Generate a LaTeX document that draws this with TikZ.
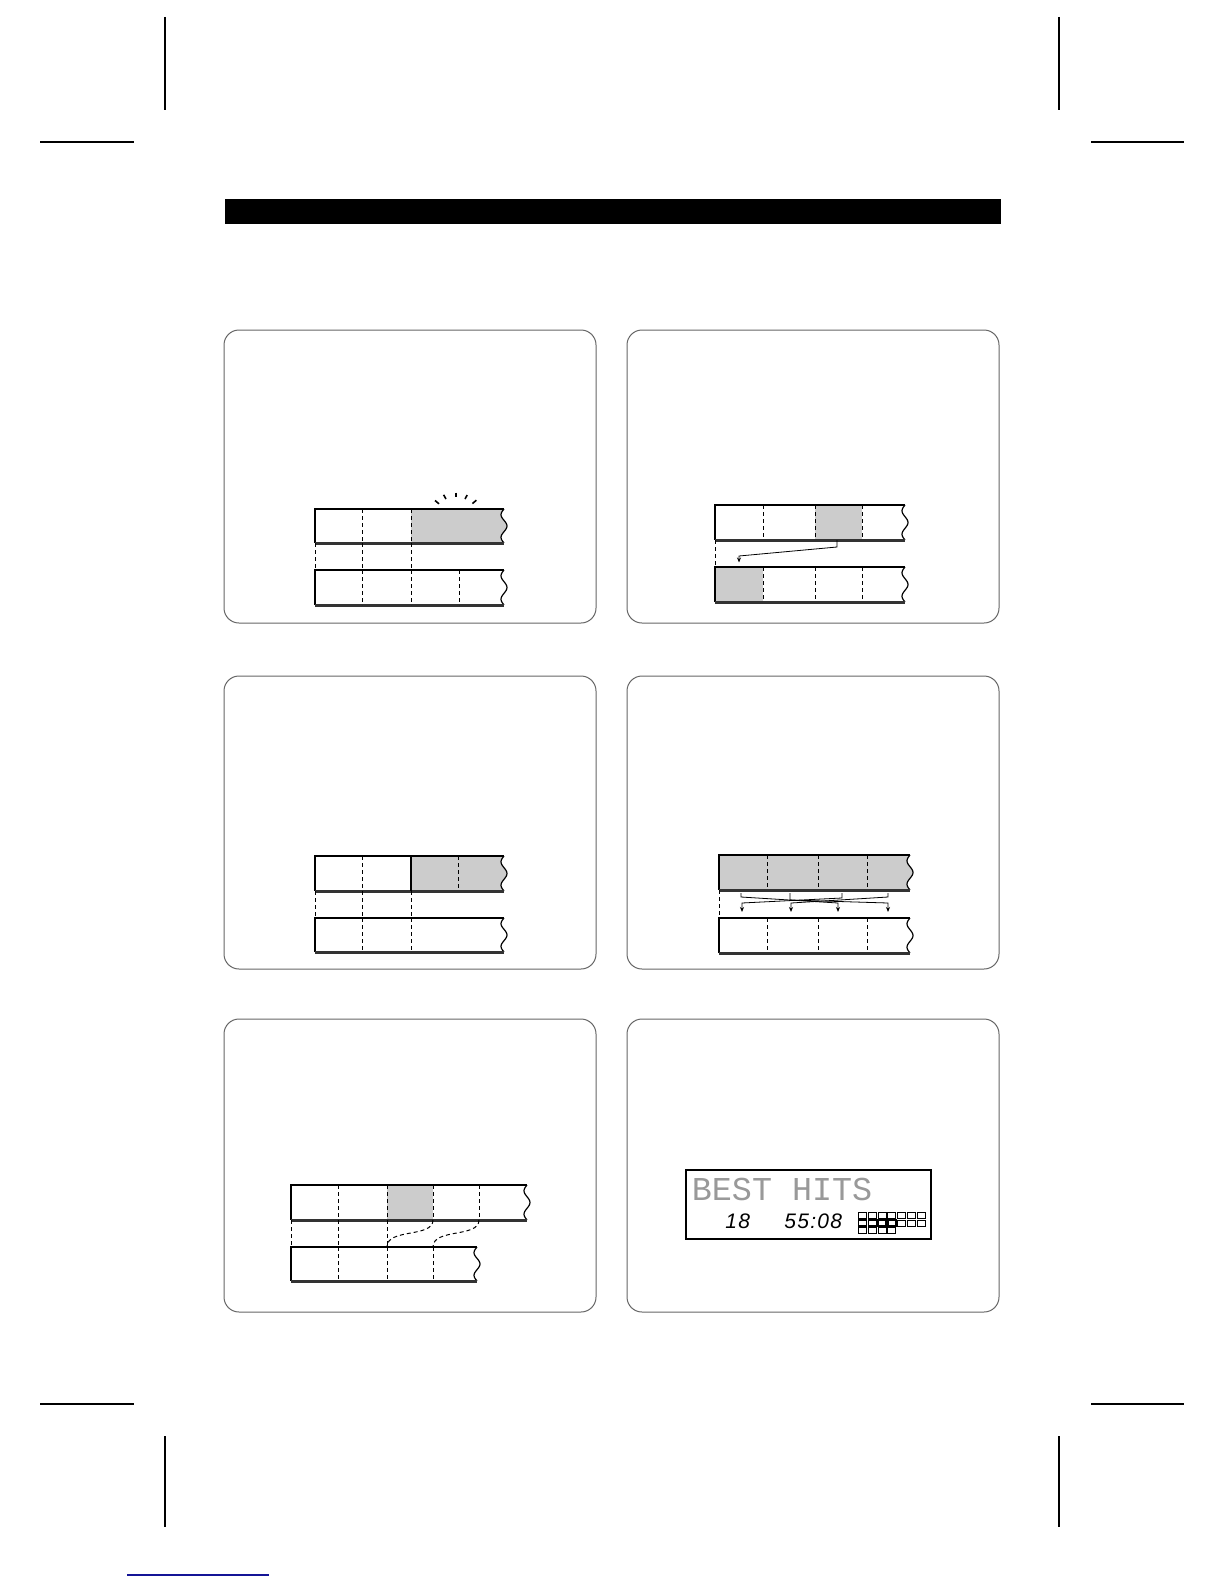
\documentclass[tikz,border=0pt]{standalone}
\usepackage{fontspec}
\newfontfamily\lcdfont{Liberation Mono}
\newfontfamily\segfont[LetterSpace=6]{Liberation Sans}
\usetikzlibrary{arrows.meta}

\definecolor{linkblue}{RGB}{20,20,150}

\tikzset{
  panel/.style={draw=black!60, line width=0.5pt, rounded corners=7.5pt},
  edge/.style={line width=0.6pt},
  base/.style={line width=1.5pt, black!80},
  sep/.style={line width=0.5pt, dash pattern=on 2pt off 1.5pt},
  shade/.style={fill=black!20},
  link/.style={line width=0.4pt, ->},
  crop/.style={line width=0.7pt},
  flash/.style={line width=0.8pt},
  seg/.style={line width=0.45pt},
}

\begin{document}
\begin{tikzpicture}[>={Stealth[length=2.5pt,width=2pt]}]
  \begin{scope}[x=0.5pt,y=-0.5pt]
    \useasboundingbox (0,0) rectangle (1224,1584);
    % tape: left, right, top, bottom
    \newcommand{\tape}[4]{%
      \draw[edge] (#2,#3) -- (#1,#3) -- (#1,#4);
      \draw[edge] plot[domain=0:1, samples=25, smooth] ({#2-3*sin(540*\x)},{#3+\x*(#4-#3)});
      \draw[base] (#1,#4) -- (#2,#4);
    }

    % crop marks
    \foreach \cx in {165,1059} {
      \draw[crop] (\cx,17) -- (\cx,110);
      \draw[crop] (\cx,1436) -- (\cx,1527);
    }
    \foreach \cy in {142,1404} {
      \draw[crop] (40,\cy) -- (134,\cy);
      \draw[crop] (1091,\cy) -- (1184,\cy);
    }
    \draw[linkblue, line width=0.7pt] (127,1575) -- (269,1575);

    % header bar
    \fill (225,199) rectangle (1001,224);

    % panels
    \foreach \px in {224,627}
      \foreach \py in {330,676,1019}
        \draw[panel] (\px,\py) rectangle ++(372,293);

    % panel 1
    \fill[shade] (411,509) -- (504,509) -- plot[domain=0:1, samples=25, smooth]
      ({504-3*sin(540*\x)},{509+\x*34}) -- (411,543) -- cycle;
    \tape{315}{504}{509}{543}
    \foreach \xx in {362,411} \draw[sep] (\xx,509) -- (\xx,543);
    \foreach \xx in {315,362,411} \draw[sep] (\xx,543) -- (\xx,570);
    \tape{315}{504}{570}{605}
    \foreach \xx in {362,411,459} \draw[sep] (\xx,570) -- (\xx,605);
    \draw[flash] (435,500.5) -- (439,503.8);
    \draw[flash] (443.6,494.8) -- (446,499);
    \draw[flash] (456,492.5) -- (456,497.2);
    \draw[flash] (467.2,495) -- (465,499);
    \draw[flash] (476.4,500.2) -- (472.4,503.6);

    % panel 2
    \fill[shade] (815,505) rectangle (862,540);
    \tape{715}{905}{505}{540}
    \foreach \xx in {763,815,862} \draw[sep] (\xx,505) -- (\xx,540);
    \draw[sep] (715,540) -- (715,567);
    \draw[link] (837,540) -- (837,547) -- (739,556) -- (739,562.5);
    \fill[shade] (715,567) rectangle (763,602);
    \tape{715}{905}{567}{602}
    \foreach \xx in {763,815,862} \draw[sep] (\xx,567) -- (\xx,602);

    % panel 3
    \fill[shade] (411,856) -- (504,856) -- plot[domain=0:1, samples=25, smooth]
      ({504-3*sin(540*\x)},{856+\x*35}) -- (411,891) -- cycle;
    \tape{315}{504}{856}{891}
    \draw[sep] (362,856) -- (362,891);
    \draw[edge] (411,856) -- (411,891);
    \draw[sep] (458,856) -- (458,891);
    \foreach \xx in {315,362,411} \draw[sep] (\xx,891) -- (\xx,918);
    \tape{315}{504}{918}{952}
    \foreach \xx in {362,411} \draw[sep] (\xx,918) -- (\xx,952);

    % panel 4
    \fill[shade] (719,855) -- (910,855) -- plot[domain=0:1, samples=25, smooth]
      ({910-3*sin(540*\x)},{855+\x*35}) -- (719,890) -- cycle;
    \tape{719}{910}{855}{890}
    \foreach \xx in {767,818,867} \draw[sep] (\xx,855) -- (\xx,890);
    \draw[sep] (719,890) -- (719,918);
    \draw[link] (741,893) -- (741,897) -- (838,903) -- (838,912);
    \draw[link] (842,893) -- (842,898) -- (742,903) -- (742,912);
    \draw[link] (790,893) -- (790,900) -- (888,903) -- (888,912);
    \draw[link] (888,893) -- (888,897) -- (791,903) -- (791,912);
    \tape{719}{910}{918}{953}
    \foreach \xx in {767,818,867} \draw[sep] (\xx,918) -- (\xx,953);

    % panel 5
    \fill[shade] (387,1185) rectangle (433,1220);
    \tape{291}{527}{1185}{1220}
    \foreach \xx in {338,387,433,479} \draw[sep] (\xx,1185) -- (\xx,1220);
    \foreach \xx in {291,338,387} \draw[sep] (\xx,1220) -- (\xx,1247);
    \draw[sep] (433,1220) .. controls (433,1238) and (387,1228) .. (387,1247);
    \draw[sep] (479,1220) .. controls (479,1238) and (433,1228) .. (433,1247);
    \tape{291}{477}{1247}{1281}
    \foreach \xx in {338,387,433} \draw[sep] (\xx,1247) -- (\xx,1281);

    % panel 6: display
    \draw[edge] (686,1170) rectangle (931,1239);
    \node[anchor=base west, inner sep=0, text=black!40, font=\lcdfont\fontsize{16.7}{18}\selectfont]
      (disptitle) at (691.5,1200) {BEST HITS};
    \node[anchor=base west, inner sep=0, font=\segfont\itshape\fontsize{10.5}{12}\selectfont]
      (disptrack) at (725,1228) {18};
    \node[anchor=base west, inner sep=0, font=\segfont\itshape\fontsize{10.5}{12}\selectfont]
      (disptime) at (784,1228) {55:08};
    \foreach \i in {0,...,6} {
      \draw[seg] ({858.5+\i*9.8},1212.5) rectangle ++(8,6);
      \draw[seg] ({858.5+\i*9.8},1220) rectangle ++(8,6);
    }
    \foreach \i in {0,...,3} {
      \draw[seg, line width=0.75pt] ({858.5+\i*9.8},1220) rectangle ++(8,6);
      \draw[seg] ({858.5+\i*9.8},1227.5) rectangle ++(8,6);
    }
  \end{scope}
\end{tikzpicture}
\end{document}
